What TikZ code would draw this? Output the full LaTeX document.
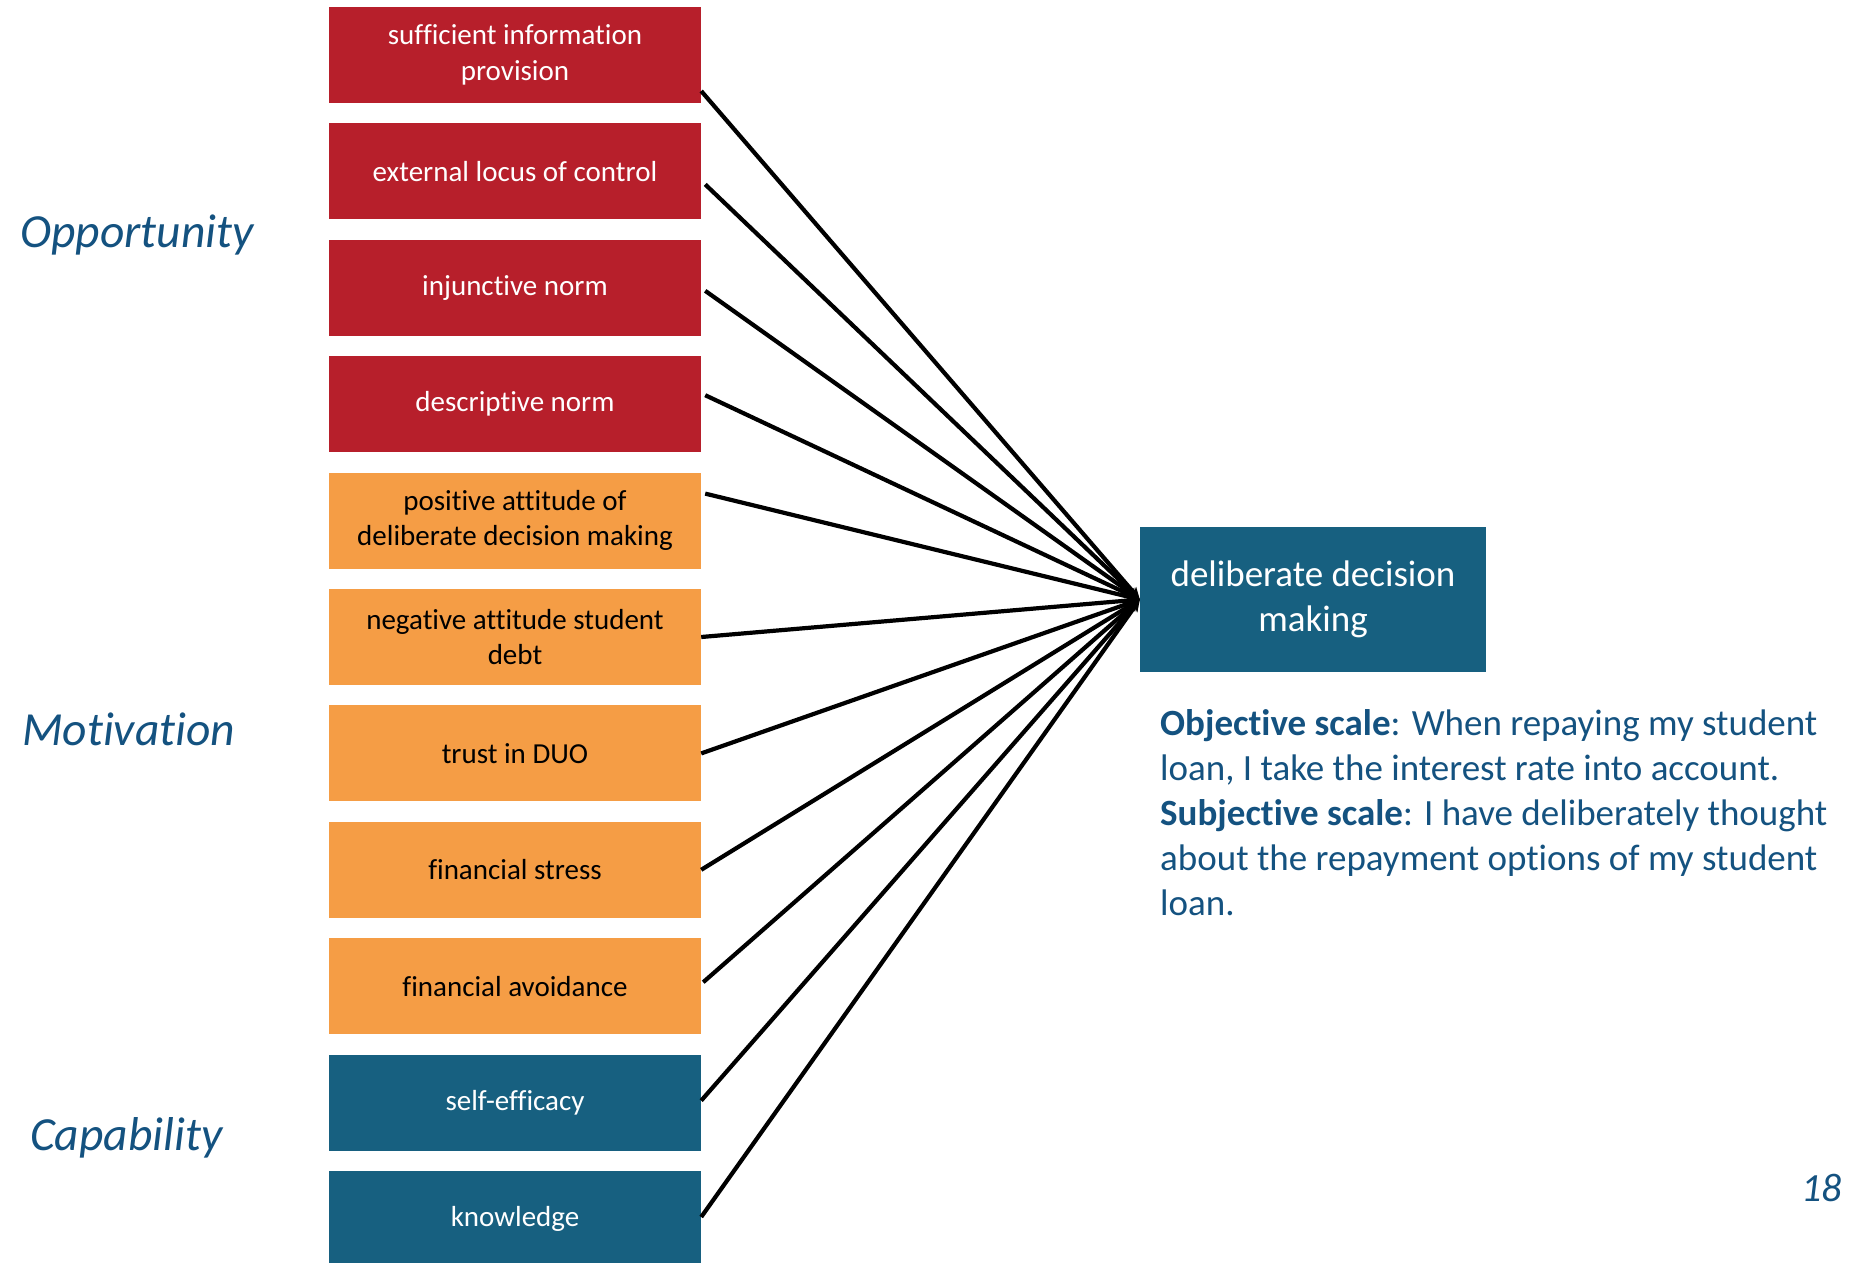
\documentclass[tikz,border=0pt]{standalone}
\usepackage{fontspec}
\setmainfont{Carlito}[Ligatures=NoCommon]
\usetikzlibrary{arrows.meta}
\definecolor{oppred}{RGB}{183,31,43}
\definecolor{motorange}{RGB}{245,157,69}
\definecolor{capblue}{RGB}{23,96,128}
\definecolor{txtblue}{RGB}{20,82,128}
\tikzset{
  factor/.style={minimum width=372pt, minimum height=96pt, inner sep=0pt,
    align=center, font=\fontsize{29pt}{35.5pt}\selectfont},
  oppbox/.style={factor, fill=oppred, text=white},
  motbox/.style={factor, fill=motorange, text=black},
  capbox/.style={factor, fill=capblue, text=white},
  outbox/.style={minimum width=346pt, minimum height=145pt, inner sep=0pt,
    align=center, fill=capblue, text=white, font=\fontsize{37pt}{45pt}\selectfont},
  grouplabel/.style={anchor=base west, inner sep=0pt, text=txtblue,
    font=\fontsize{47.5pt}{57pt}\selectfont\itshape},
  link/.style={line width=4.2pt, -{Stealth[length=12pt,width=11pt]}}
}
\begin{document}
\begin{tikzpicture}[x=1pt,y=-1pt]
\path[use as bounding box, clip] (0,0) rectangle (1862,1262);
\fill[white] (0,0) rectangle (1862,1262);
% factor boxes
\node[oppbox] (b1)  at (515,55)    {sufficient information\\provision};
\node[oppbox] (b2)  at (515,171.4) {external locus of control};
\node[oppbox] (b3)  at (515,287.8) {injunctive norm};
\node[oppbox] (b4)  at (515,404.2) {descriptive norm};
\node[motbox] (b5)  at (515,520.6) {positive attitude of\\deliberate decision making};
\node[motbox] (b6)  at (515,637)   {negative attitude student\\debt};
\node[motbox] (b7)  at (515,753.4) {trust in DUO};
\node[motbox] (b8)  at (515,869.8) {financial stress};
\node[motbox] (b9)  at (515,986.2) {financial avoidance};
\node[capbox] (b10) at (515,1102.6){self-efficacy};
\node[capbox] (b11) at (515,1219)  {knowledge};
% outcome
\node[outbox] (t) at (1313,599.5) {deliberate decision\\making};
% group labels
\node[grouplabel] (lopp) at (20,247)  {Opportunity};
\node[grouplabel] (lmot) at (22,745)  {Motivation};
\node[grouplabel] (lcap) at (30,1150) {Capability};
% description (base anchor = last line)
\node[anchor=base west, inner sep=0pt, align=left, text=txtblue,
  font=\fontsize{37pt}{45pt}\selectfont] (desc) at (1160,915)
  {\textbf{Objective scale}: When repaying my student\\
   loan, I take the interest rate into account.\\
   \textbf{Subjective scale}: I have deliberately thought\\
   about the repayment options of my student\\
   loan.};
% page number
\node[anchor=base east, inner sep=0pt, text=txtblue,
  font=\fontsize{40pt}{48pt}\selectfont\itshape] (pg) at (1842,1201) {18};
% connector start points
\coordinate (s1)  at ([yshift=-36pt]b1.east);
\coordinate (s2)  at ([xshift=4pt,yshift=-13pt]b2.east);
\coordinate (s3)  at ([xshift=4pt,yshift=-3pt]b3.east);
\coordinate (s4)  at ([xshift=4pt,yshift=9pt]b4.east);
\coordinate (s5)  at ([xshift=4pt,yshift=27pt]b5.east);
\coordinate (s6)  at (b6.east);
\coordinate (s7)  at (b7.east);
\coordinate (s8)  at (b8.east);
\coordinate (s9)  at ([xshift=2pt,yshift=4pt]b9.east);
\coordinate (s10) at ([yshift=2pt]b10.east);
\coordinate (s11) at ([yshift=2pt]b11.east);
\foreach \i in {1,...,11} {
  \draw[link] (s\i) -- (t.west);
}
\end{tikzpicture}
\end{document}
